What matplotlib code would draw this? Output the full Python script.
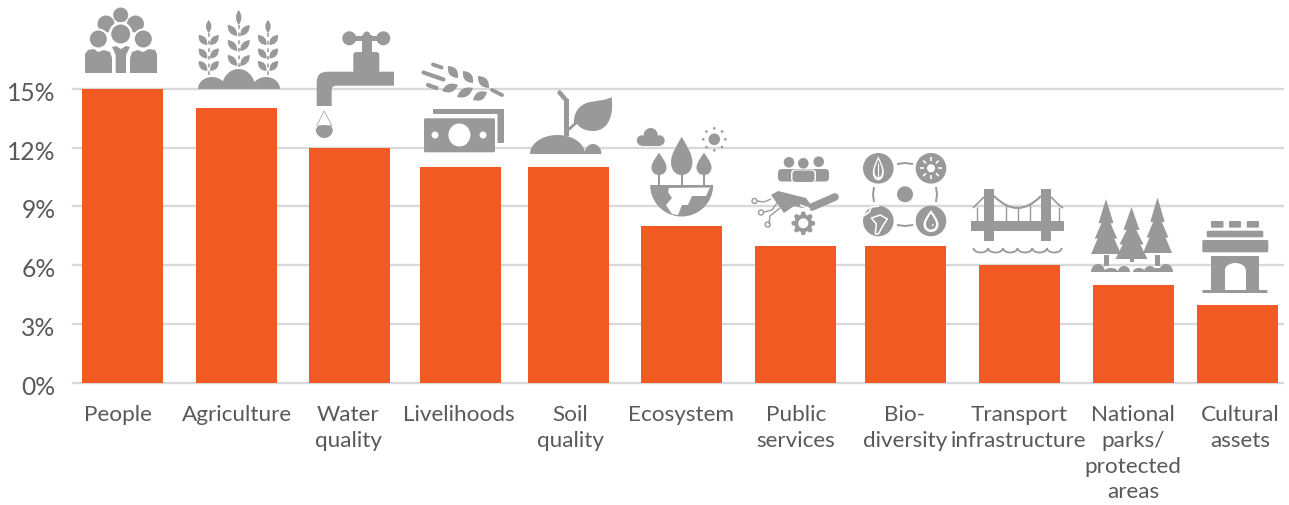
import numpy as np
import matplotlib
matplotlib.use('Agg')
import matplotlib.pyplot as plt
from matplotlib.patches import Circle, Ellipse, Polygon, Rectangle, PathPatch, FancyBboxPatch, Arc
from matplotlib.path import Path
from matplotlib.transforms import ScaledTranslation

plt.rcParams['font.family'] = ['Lato', 'Carlito', 'Open Sans', 'DejaVu Sans']

categories = ['People', 'Agriculture', 'Water\nquality', 'Livelihoods', 'Soil\nquality',
              'Ecosystem', 'Public\nservices', 'Bio-\ndiversity', 'Transport\ninfrastructure',
              'National\nparks/\nprotected\nareas', 'Cultural\nassets']
shares = [15, 14, 12, 11, 11, 8, 7, 7, 6, 5, 4]
y_ticks = [0, 3, 6, 9, 12, 15]

# the bars are not evenly spaced in the original
bar_x = [122.5, 236.5, 349.5, 460.5, 568.5, 681.5, 795.5, 905.5, 1019.5, 1133.5, 1237.5]
label_x = [118, 237, 348, 459, 570, 681, 796, 905, 1019, 1133, 1240]

ORANGE = '#F15A22'
GREY = '#999999'
TEXT = '#595959'
GRID = '#D9D9D9'

W, H = 1289, 505
fig = plt.figure(figsize=(W / 100, H / 100), dpi=100)
ax = fig.add_axes([73 / W, 1 - 383.2 / H, (1283 - 73) / W, (383.2 - 88.6) / H])
ax.set_xlim(73, 1283)
ax.set_ylim(0, 15)
ax.bar(bar_x, shares, width=81, color=ORANGE, zorder=3)
ax.set_yticks(y_ticks)
ax.set_yticklabels(['{}%'.format(t) for t in y_ticks], fontsize=17.7, color=TEXT)
ax.set_xticks(label_x)
ax.set_xticklabels(categories, fontsize=16.2, color=TEXT, linespacing=1.355)
ax.tick_params(axis='y', length=0, pad=12.6)
ax.tick_params(axis='x', length=0, pad=15.8)
ax.grid(axis='y', color=GRID, lw=1.7, zorder=1)
for ln in ax.get_ygridlines():
    ln.set_clip_on(False)
for s in ax.spines.values():
    s.set_visible(False)
# y labels sit a little below their gridlines
down = ScaledTranslation(0, -2.5 / 100, fig.dpi_scale_trans)
for lab in ax.get_yticklabels():
    lab.set_transform(lab.get_transform() + down)

# overlay in pixel coordinates for the pictograms
ov = fig.add_axes([0, 0, 1, 1], facecolor='none')
ov.set_xlim(0, W)
ov.set_ylim(H, 0)
ov.axis('off')


def circ(x, y, r, c=GREY, **kw):
    ov.add_patch(Circle((x, y), r, fc=c, ec='none', **kw))


def rect(x0, y0, x1, y1, c=GREY, rnd=0):
    if rnd:
        ov.add_patch(FancyBboxPatch((x0 + rnd, y0 + rnd), x1 - x0 - 2 * rnd, y1 - y0 - 2 * rnd,
                                    boxstyle='round,pad={},rounding_size={}'.format(rnd, rnd), fc=c, ec='none'))
    else:
        ov.add_patch(Rectangle((x0, y0), x1 - x0, y1 - y0, fc=c, ec='none'))


def poly(pts, c=GREY):
    ov.add_patch(Polygon(pts, closed=True, fc=c, ec='none'))


def line(pts, lw=1.5, c=GREY, cap='butt'):
    xs, ys = zip(*pts)
    ov.plot(xs, ys, color=c, lw=lw, solid_capstyle=cap, solid_joinstyle='round')


def leaf(a, b, w, c=GREY):
    # lens shape between two points, w is the half width
    a, b = np.array(a, float), np.array(b, float)
    d = b - a
    n = np.array([-d[1], d[0]]) / np.hypot(*d)
    m = (a + b) / 2
    verts = [a, m + n * w * 2, b, m - n * w * 2, a]
    codes = [Path.MOVETO, Path.CURVE3, Path.CURVE3, Path.CURVE3, Path.CURVE3]
    ov.add_patch(PathPatch(Path(verts, codes), fc=c, ec='none'))


def drop_leaf(x, top, bottom, hw, c=GREY):
    # pointed at the top, round at the bottom
    h = bottom - top
    verts = [(x, top), (x + hw * 0.5, top + h * 0.25), (x + hw, top + h * 0.45), (x + hw, top + h * 0.66),
             (x + hw, top + h * 0.88), (x + hw * 0.55, bottom), (x, bottom),
             (x - hw * 0.55, bottom), (x - hw, top + h * 0.88), (x - hw, top + h * 0.66),
             (x - hw, top + h * 0.45), (x - hw * 0.5, top + h * 0.25), (x, top)]
    codes = [Path.MOVETO] + [Path.CURVE4] * 12
    ov.add_patch(PathPatch(Path(verts, codes), fc=c, ec='none'))


def mound(cx, base, rx, ry, c=GREY):
    t = np.linspace(np.pi, 2 * np.pi, 40)
    poly(list(zip(cx + rx * np.cos(t), base + ry * np.sin(t))), c)


def half_disc(cx, cy, r, c=GREY):
    t = np.linspace(0, np.pi, 60)
    poly(list(zip(cx + r * np.cos(t), cy + r * np.sin(t))), c)


def people_icon():
    circ(120.7, 15, 7.5)
    circ(106, 24, 8.5)
    circ(135.5, 24, 8.5)
    circ(120.7, 34, 12, 'white')
    circ(98.3, 39, 10.5, 'white')
    circ(143.3, 39, 10.5, 'white')
    circ(120.7, 34, 9.5)
    circ(98.3, 39, 8.5)
    circ(143.3, 39, 8.5)
    poly([(85, 73), (85, 54), (88, 50), (94, 49), (98, 52), (104, 50), (110, 52), (112, 58), (112, 73)])
    poly([(130, 73), (130, 58), (132, 52), (138, 50), (143, 52), (149, 49), (155, 50), (157, 54), (157, 73)])
    poly([(115.7, 73), (115.7, 55), (112, 47), (116, 46), (121, 49), (126, 46), (130, 47), (126, 55), (126, 73)])


def wheat(cx, top, top_h, bases, span=10):
    leaf((cx, top), (cx, top + top_h), 2.8)
    for y0 in bases:
        leaf((cx - 1.5, y0), (cx - span, y0 - span), 3.4)
        leaf((cx + 1.5, y0), (cx + span, y0 - span), 3.4)
    ov.plot([cx, cx], [top + top_h, 77], color=GREY, lw=1.1, ls=(0, (2.5, 2.5)))


def agriculture_icon():
    wheat(238.7, 10, 15, [36, 51, 66], 11)
    wheat(208.7, 20, 13, [45, 58.5, 71])
    wheat(268, 20, 13, [45, 58.5, 71])
    mound(212, 89, 14, 12)
    mound(238.5, 89, 17, 20)
    mound(266, 89, 14, 12)


def tap_icon():
    circ(349.3, 38.3, 7)
    circ(383.3, 38.3, 7)
    rect(349, 35.5, 384, 41)
    circ(366.7, 35, 3.5)
    rect(361.7, 35, 371.7, 56)
    rect(353.3, 52, 379.3, 74, rnd=3)
    verts = [(394, 71.7), (327, 71.7), (316.7, 71.7), (316.7, 82), (316.7, 106), (331.7, 106),
             (331.7, 90), (331.7, 85.7), (336, 85.7), (394, 85.7), (394, 71.7)]
    codes = [Path.MOVETO, Path.LINETO, Path.CURVE3, Path.CURVE3, Path.LINETO, Path.LINETO,
             Path.LINETO, Path.CURVE3, Path.CURVE3, Path.LINETO, Path.CLOSEPOLY]
    ov.add_patch(PathPatch(Path(verts, codes), fc=GREY, ec='none'))
    # drop, half full
    t = np.linspace(-0.1, np.pi + 0.1, 40)
    poly(list(zip(324.3 + 8.5 * np.cos(t), 129.5 + 8.5 * np.sin(t))))
    poly([(315.9, 130), (318, 125.5), (324.3, 125), (331, 125.5), (332.7, 130)])
    line([(316.5, 126), (324.2, 111), (332, 126)], lw=0.5)


def money_icon():
    line([(433, 64.5), (441.5, 67.5)], lw=2.8, cap='round')
    line([(423.5, 72.5), (443.5, 79.5)], lw=3, cap='round')
    line([(428, 85), (436.5, 88)], lw=3, cap='round')
    line([(492, 90), (502, 95)], lw=2.8, cap='round')
    # grains on the ear
    for a, b in [((448, 66), (458, 78)), ((463, 71), (473, 83)), ((478, 76), (489, 88)),
                 ((442, 91), (458, 85)), ((457, 97), (473, 88)), ((473, 100), (487, 92))]:
        leaf(a, b, 4.2)
    rect(433, 109, 504, 114, rnd=1)
    rect(497.5, 109, 504, 143, rnd=1)
    rect(424, 118.3, 495, 152.3, rnd=1.5)
    ov.add_patch(Ellipse((459.4, 135), 22, 23, fc='white', ec='none'))
    circ(435, 135, 3.5, 'white')
    circ(483, 135, 3.5, 'white')


def sapling_icon():
    mound(557.5, 154, 27.5, 19)
    mound(593, 154, 8.5, 10)
    rect(564, 99, 569, 136)
    line([(559.5, 92.5), (566, 100)], lw=3.2, cap='round')
    line([(567, 131), (577, 122)], lw=2)
    verts = [(574, 124), (573, 112), (580, 104), (590, 102), (598, 100.5), (606, 100.5), (611.5, 97),
             (614, 112), (610, 131), (593, 131), (585, 131), (580, 128), (577, 124), (574, 124)]
    codes = [Path.MOVETO] + [Path.CURVE4] * 12 + [Path.CLOSEPOLY]
    ov.add_patch(PathPatch(Path(verts, codes), fc=GREY, ec='none'))


def ecosystem_icon():
    circ(650.7, 135, 7)
    circ(642, 140.5, 5.2)
    circ(659.5, 140.5, 5.2)
    rect(642, 139, 660, 145.7)
    circ(714.3, 139.3, 5.8)
    for a in np.arange(0, 360, 45):
        circ(714.3 + 11 * np.cos(np.radians(a)), 139.3 + 11 * np.sin(np.radians(a)), 1.3)
    drop_leaf(681.7, 136.7, 175, 10.7)
    drop_leaf(659, 152.7, 175, 7.5)
    drop_leaf(704, 152.7, 175, 7.5)
    for x in (659, 681.7, 704):
        rect(x - 1.2, 170, x + 1.2, 186)
    half_disc(681.7, 185, 31.5)
    poly([(669, 188), (710, 187.5), (706, 196), (692, 196), (688, 205), (682, 205), (678, 215),
          (672, 214), (666, 205), (672, 198), (668, 192)], 'white')


def public_icon():
    circ(789, 162.3, 5.3)
    circ(818.7, 161.7, 5.3)
    circ(803.3, 163.3, 5.3)
    rect(778, 169, 829, 181.5, rnd=4)
    rect(791, 169.5, 816, 182.5, 'white', rnd=4)
    rect(792.5, 170.5, 814.5, 182, rnd=3.5)
    poly([(771, 195), (778, 191), (806, 198), (811, 205), (803, 208), (794, 206), (784, 213)])
    line([(812, 207), (835, 197)], lw=5.5, cap='round')
    line([(800, 205), (810, 209)], lw=1.2, c='white')
    # gear
    for a in np.arange(0, 360, 45):
        rad = np.radians(a)
        circ(803.3 + 9.5 * np.cos(rad), 223.3 + 9.5 * np.sin(rad), 2.4)
    circ(803.3, 223.3, 9)
    circ(803.3, 223.3, 5, 'white')
    # circuit wires with open ends
    line([(757, 201), (764, 202), (771, 199)], lw=1)
    line([(764, 212), (772, 210), (777, 203)], lw=1)
    line([(769, 224), (770, 216), (780, 208)], lw=1)
    for x, y in [(754.5, 201), (761, 212.5), (767.7, 224.5)]:
        ov.add_patch(Circle((x, y), 2.5, fc='white', ec=GREY, lw=1))


def biodiversity_icon():
    cs = [(878.3, 168.3), (931, 168.3), (878.3, 221), (931, 221)]
    for x, y in cs:
        circ(x, y, 15.3)
    circ(905, 194.3, 8)
    line([(897, 164), (905, 163), (913, 164)], lw=1.4)
    line([(897, 225), (905, 226), (913, 225)], lw=1.4)
    line([(874, 187), (873, 194.5), (874, 202)], lw=1.4)
    line([(936, 187), (937, 194.5), (936, 202)], lw=1.4)
    # leaf outline
    x, y = cs[0]
    drop_leaf(x, y - 12, y + 12, 5.5, 'white')
    drop_leaf(x, y - 9, y + 9, 3.8)
    line([(x, y - 5), (x, y + 10)], lw=0.8, c='white')
    # sun
    x, y = cs[1]
    circ(x, y, 4, 'white')
    for a in np.arange(0, 360, 45):
        r = np.radians(a)
        line([(x + 7 * np.cos(r), y + 7 * np.sin(r)), (x + 11 * np.cos(r), y + 11 * np.sin(r))], lw=1.2, c='white')
    # globe with coast lines
    x, y = cs[2]
    line([(x - 15, y - 5), (x - 9, y - 9), (x - 7, y - 14), (x + 1, y - 15)], lw=1.2, c='white')
    line([(x - 7, y - 3), (x + 2, y - 6), (x + 9, y - 2), (x + 5, y + 4), (x, y + 13), (x - 3, y + 13),
          (x - 2, y + 3), (x - 7, y - 3)], lw=1.1, c='white')
    # water drop
    x, y = cs[3]
    drop_leaf(x, y - 11, y + 11, 7.5, 'white')
    drop_leaf(x, y - 7.5, y + 8.5, 5)
    line([(x + 2.5, y + 3), (x + 1, y + 5)], lw=0.9, c='white')


def bridge_icon():
    deck = 221
    cable = Path([(994, 196), (1017.5, 220), (1041, 196)], [Path.MOVETO, Path.CURVE3, Path.CURVE3])
    ov.add_patch(PathPatch(cable, fc='none', ec=GREY, lw=1.5))
    line([(984, 197), (977, 204), (973, 208)], lw=1.2)
    line([(1051, 197), (1058, 204), (1063, 208)], lw=1.2)
    for x, y in [(1005.5, 205), (1017.5, 208), (1029.5, 205), (977, 207), (1059, 207)]:
        line([(x, y), (x, deck)], lw=1)
    rect(984.3, 189, 994.3, 240.7)
    rect(1041, 189, 1051, 240.7)
    rect(971, deck, 1064, 231)
    for k in range(6):
        x0 = 973.5 + k * 14.7
        ov.add_patch(Arc((x0 + 7.3, 248), 14.7, 9, theta1=0, theta2=180, color=GREY, lw=1.3))


def tree(cx, top, base_y, hw):
    h = base_y - top
    poly([(cx, top), (cx + hw * 0.5, top + h * 0.44), (cx + hw * 0.3, top + h * 0.44),
          (cx + hw * 0.75, top + h * 0.72), (cx + hw * 0.55, top + h * 0.72), (cx + hw, base_y),
          (cx - hw, base_y), (cx - hw * 0.55, top + h * 0.72), (cx - hw * 0.75, top + h * 0.72),
          (cx - hw * 0.3, top + h * 0.44), (cx - hw * 0.5, top + h * 0.44)])


def park_icon():
    tree(1106, 199, 254, 15)
    tree(1157.5, 197.5, 253, 14.5)
    tree(1131.5, 207, 259, 16)
    rect(1103.5, 255, 1109, 266)
    rect(1130, 258, 1134, 262)
    rect(1155, 255, 1160, 266)
    for cx, rx, ry in [(1098, 7, 8), (1111, 7, 4), (1124, 6, 6), (1139, 6, 4), (1150, 6, 6), (1158, 7, 4), (1166, 7, 8)]:
        mound(cx, 272, rx, ry)


def arch_icon():
    for x0, x1 in [(1211, 1223.5), (1229, 1241), (1246.7, 1259)]:
        rect(x0, 221, x1, 227.7, rnd=1)
    rect(1206.7, 230.7, 1263.3, 237.3, rnd=1.5)
    rect(1202.3, 240, 1268.3, 252.3, rnd=1.5)
    rect(1211, 255.7, 1259, 290.5)
    rect(1225, 270, 1245.7, 291, 'white')
    ov.add_patch(Ellipse((1235.3, 270), 20.7, 14, fc='white', ec='none'))
    rect(1202.3, 290, 1267.5, 293, rnd=1)


people_icon()
agriculture_icon()
tap_icon()
money_icon()
sapling_icon()
ecosystem_icon()
public_icon()
biodiversity_icon()
bridge_icon()
park_icon()
arch_icon()

fig.savefig('out.png', dpi=100)
